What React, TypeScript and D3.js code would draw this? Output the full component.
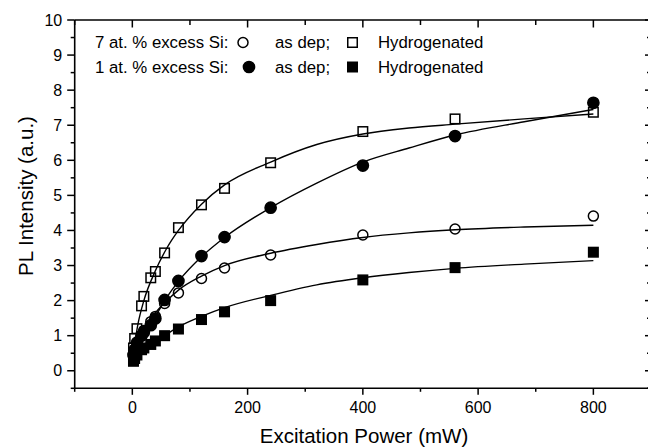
import React from "react";
import * as d3 from "d3";

// ---- data ----
const powers = [2, 4, 8, 16, 20, 32, 40, 56, 80, 120, 160, 240, 400, 560, 800];
const openSquares = [0.65, 0.92, 1.2, 1.85, 2.12, 2.65, 2.83, 3.36, 4.08, 4.73, 5.2, 5.93, 6.82, 7.18, 7.37];
const filledCircles = [0.45, 0.6, 0.8, 1.0, 1.1, 1.3, 1.49, 2.02, 2.56, 3.27, 3.81, 4.65, 5.85, 6.69, 7.64];
const openCircles = [0.4, 0.55, 0.75, 1.0, 1.15, 1.4, 1.55, 1.92, 2.22, 2.63, 2.93, 3.3, 3.87, 4.04, 4.41];
const filledSquares = [0.27, 0.35, 0.45, 0.6, 0.65, 0.75, 0.85, 1.0, 1.19, 1.46, 1.68, 2.0, 2.59, 2.94, 3.38];

// fitted curves
const fitX = [2, 10, 20, 40, 60, 80, 120, 160, 240, 320, 400, 480, 560, 680, 800];
const fitOpenSquares = [0.55, 1.35, 2.0, 2.85, 3.5, 4.0, 4.75, 5.3, 5.95, 6.45, 6.75, 6.92, 7.03, 7.18, 7.32];
const fitFilledCircles = [0.3, 0.7, 1.0, 1.55, 2.1, 2.55, 3.25, 3.8, 4.65, 5.35, 5.95, 6.35, 6.72, 7.1, 7.45];
const fitOpenCircles = [0.4, 0.8, 1.15, 1.65, 2.0, 2.3, 2.7, 3.0, 3.35, 3.6, 3.8, 3.93, 4.02, 4.1, 4.15];
const fitFilledSquares = [0.25, 0.45, 0.6, 0.85, 1.05, 1.25, 1.55, 1.8, 2.15, 2.45, 2.65, 2.8, 2.92, 3.04, 3.14];

const xMajorTicks = [0, 200, 400, 600, 800];
const xMinorTicks = [-100, 100, 300, 500, 700, 900];
const yMajorTicks = [0, 1, 2, 3, 4, 5, 6, 7, 8, 9, 10];
const yMinorTicks = [-0.5, 0.5, 1.5, 2.5, 3.5, 4.5, 5.5, 6.5, 7.5, 8.5, 9.5];

const xTitle = "Excitation Power (mW)";
const yTitle = "PL Intensity (a.u.)";
const legendRow1 = "7 at. % excess Si:";
const legendRow2 = "1 at. % excess Si:";
const legendAsDep = "as dep;";
const legendHyd = "Hydrogenated";

const W = 648;
const H = 447;
const FONT = "'Liberation Sans', Arial, Helvetica, sans-serif";

export default function App() {
  const x = d3.scaleLinear().domain([-100, 900]).range([74.7, 651]);
  const y = d3.scaleLinear().domain([-0.5, 10]).range([388.3, 20]);
  const [x0, x1] = x.range();
  const [y0, y1] = y.range();

  const line = d3
    .line<[number, number]>()
    .x((d) => x(d[0]))
    .y((d) => y(d[1]))
    .curve(d3.curveMonotoneX);

  const fits = [fitOpenSquares, fitFilledCircles, fitOpenCircles, fitFilledSquares];

  const sq = 9.5;
  const r = 5;

  const square = (px: number, py: number, filled: boolean, key: string) => (
    <rect
      key={key}
      x={px - sq / 2}
      y={py - sq / 2}
      width={sq}
      height={sq}
      fill={filled ? "#000" : "none"}
      stroke="#000"
      strokeWidth={1.5}
    />
  );
  const circle = (px: number, py: number, filled: boolean, key: string) => (
    <circle
      key={key}
      cx={px}
      cy={py}
      r={filled ? r + 0.6 : r}
      fill={filled ? "#000" : "none"}
      stroke="#000"
      strokeWidth={1.5}
    />
  );

  return (
    <svg
      width={W}
      height={H}
      style={{ position: "absolute", left: 0, top: 0, background: "#fff" }}
      fontFamily={FONT}
    >
      <rect x={0} y={0} width={W} height={H} fill="#fff" />

      {/* fit curves */}
      {fits.map((f, i) => (
        <path
          key={"fit" + i}
          d={line(fitX.map((v, j) => [v, f[j]] as [number, number])) || ""}
          fill="none"
          stroke="#000"
          strokeWidth={1.4}
        />
      ))}

      {/* markers */}
      {powers.map((p, i) => square(x(p), y(openSquares[i]), false, "os" + i))}
      {powers.map((p, i) => circle(x(p), y(openCircles[i]), false, "oc" + i))}
      {powers.map((p, i) => square(x(p), y(filledSquares[i]), true, "fs" + i))}
      {powers.map((p, i) => circle(x(p), y(filledCircles[i]), true, "fc" + i))}

      {/* frame */}
      <g stroke="#000" strokeWidth={1.6} fill="none">
        <line x1={x0} x2={x1} y1={y0} y2={y0} />
        <line x1={x0} x2={x1} y1={y1} y2={y1} />
        <line x1={x0} x2={x0} y1={y0} y2={y1} />
        <line x1={x1} x2={x1} y1={y0} y2={y1} />
      </g>

      {/* bottom ticks (outward) and top ticks (inward) */}
      <g stroke="#000" strokeWidth={1.5}>
        {xMajorTicks.map((t) => (
          <g key={"xm" + t}>
            <line x1={x(t)} x2={x(t)} y1={y0} y2={y0 + 6.5} />
            <line x1={x(t)} x2={x(t)} y1={y1} y2={y1 + 7.5} />
          </g>
        ))}
        {xMinorTicks.map((t) => (
          <g key={"xn" + t}>
            <line x1={x(t)} x2={x(t)} y1={y0} y2={y0 + 3.5} />
            <line x1={x(t)} x2={x(t)} y1={y1} y2={y1 + 5} />
          </g>
        ))}
        {yMajorTicks.map((t) => (
          <g key={"ym" + t}>
            <line x1={x0 - 7.5} x2={x0} y1={y(t)} y2={y(t)} />
            <line x1={x1 - 6} x2={x1} y1={y(t)} y2={y(t)} />
          </g>
        ))}
        {yMinorTicks.map((t) => (
          <g key={"yn" + t}>
            <line x1={x0 - 4} x2={x0} y1={y(t)} y2={y(t)} />
            <line x1={x1 - 4} x2={x1} y1={y(t)} y2={y(t)} />
          </g>
        ))}
      </g>

      {/* tick labels */}
      <g fontSize={16} fill="#000">
        {xMajorTicks.map((t) => (
          <text key={"xl" + t} x={x(t)} y={413.3} textAnchor="middle">
            {t}
          </text>
        ))}
        {yMajorTicks.map((t) => (
          <text key={"yl" + t} x={x0 - 12.5} y={y(t)} dy="0.35em" textAnchor="end">
            {t}
          </text>
        ))}
      </g>

      {/* axis titles */}
      <text x={364} y={442.7} textAnchor="middle" fontSize={20.5} fill="#000">
        {xTitle}
      </text>
      <text
        transform={`translate(33,196) rotate(-90)`}
        textAnchor="middle"
        fontSize={20.5}
        fill="#000"
      >
        {yTitle}
      </text>

      {/* legend */}
      <g fontSize={16.8} fill="#000">
        <text x={95} y={48.3}>{legendRow1}</text>
        <text x={275} y={48.3}>{legendAsDep}</text>
        <text x={378} y={48.3}>{legendHyd}</text>
        <text x={95} y={72.7}>{legendRow2}</text>
        <text x={275} y={72.7}>{legendAsDep}</text>
        <text x={378} y={72.7}>{legendHyd}</text>
      </g>
      {circle(243, 42.5, false, "lg1")}
      {square(352.5, 42.5, false, "lg2")}
      {circle(249, 67, true, "lg3")}
      {square(352.5, 67, true, "lg4")}
    </svg>
  );
}
